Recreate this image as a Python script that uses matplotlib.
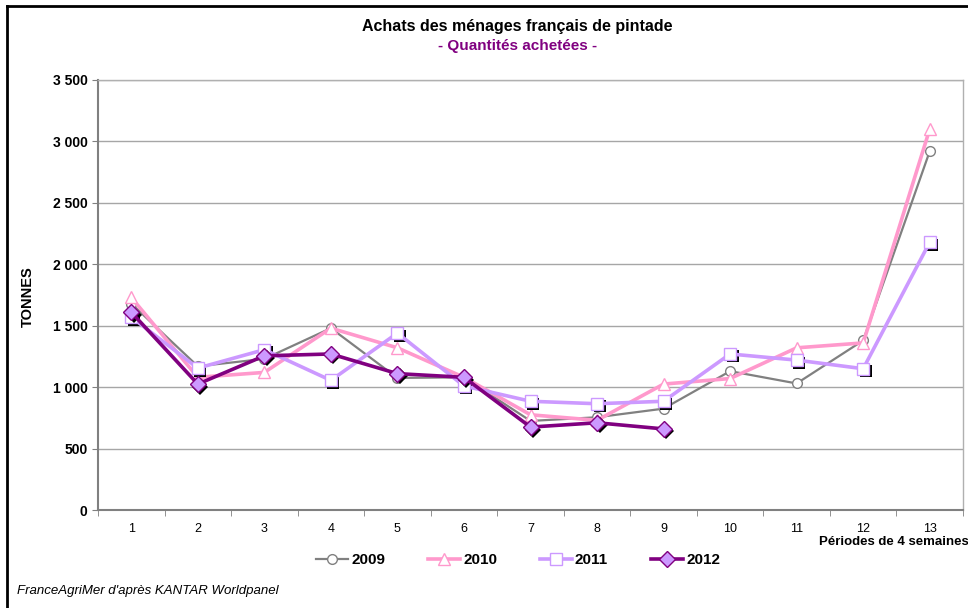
import numpy as np
import matplotlib
matplotlib.use("Agg")
import matplotlib.pyplot as plt
from matplotlib.lines import Line2D
from matplotlib.transforms import offset_copy
from matplotlib.ticker import FuncFormatter

plt.rcParams["font.family"] = ["Liberation Sans", "DejaVu Sans"]

# ── data ────────────────────────────────────────────────────────────────────
periods = list(range(1, 14))
v2009 = [1680, 1170, 1230, 1480, 1075, 1080, 725, 755, 825, 1130, 1030, 1380, 2920]
v2010 = [1730, 1080, 1120, 1480, 1320, 1080, 775, 730, 1025, 1070, 1320, 1360, 3100]
v2011 = [1570, 1155, 1305, 1055, 1440, 1010, 885, 865, 885, 1270, 1220, 1150, 2180]
v2012 = [1610, 1025, 1255, 1270, 1110, 1080, 675, 710, 660]
years = ["2009", "2010", "2011", "2012"]

fig = plt.figure(figsize=(9.68, 6.08), dpi=100)
ax = fig.add_axes([98 / 968, 1 - 510 / 608, 865 / 968, 430 / 608])

# black drop shadow under the square / diamond markers
shadow = offset_copy(ax.transData, fig=fig, x=2.5, y=-2.5, units="dots")

ax.plot(periods, v2009, "-", color="#808080", lw=1.6, marker="o", ms=7,
        mfc="white", mec="#808080", mew=1.0, zorder=3, label=years[0])
ax.plot(periods, v2010, "-", color="#FF99CC", lw=2.6, marker="^", ms=8,
        mfc="white", mec="#FF99CC", mew=1.0, zorder=4, label=years[1])
ax.plot(periods, v2011, "s", color="black", ms=8, mew=0, transform=shadow, zorder=4.5)
ax.plot(periods, v2011, "-", color="#CC99FF", lw=2.6, marker="s", ms=8,
        mfc="white", mec="#CC99FF", mew=1.0, zorder=5, label=years[2])
p12 = periods[:len(v2012)]
ax.plot(p12, v2012, "D", color="black", ms=8, mew=0, transform=shadow, zorder=5.5)
ax.plot(p12, v2012, "-", color="#800080", lw=2.6, marker="D", ms=8,
        mfc="#CC99FF", mec="#800080", mew=1.0, zorder=6, label=years[3])

# ── axes ────────────────────────────────────────────────────────────────────
ax.set_xlim(0.5, 13.5)
ax.set_ylim(0, 3500)
ax.set_yticks(np.arange(0, 3501, 500))
ax.yaxis.set_major_formatter(FuncFormatter(lambda v, _: f"{int(v):,}".replace(",", " ")))
ax.grid(axis="y", color="#a6a6a6", lw=1.0, zorder=0)
ax.set_axisbelow(True)

ax.set_xticks(periods)
ax.set_xticks(np.arange(0.5, 13.6, 1), minor=True)
ax.tick_params(axis="x", which="major", length=0, pad=9, labelsize=9)
ax.tick_params(axis="x", which="minor", length=4, direction="out", color="#808080")
ax.tick_params(axis="y", length=4, direction="out", color="#808080", labelsize=10)
for lbl in ax.get_yticklabels():
    lbl.set_fontweight("bold")

for side in ["left", "bottom"]:
    ax.spines[side].set_color("#808080")
    ax.spines[side].set_linewidth(1.5)
for side in ["top", "right"]:
    ax.spines[side].set_color("#b0b0b0")
    ax.spines[side].set_linewidth(1.0)

# ── texts ───────────────────────────────────────────────────────────────────
fig.text(517 / 968, 1 - 27 / 608, "Achats des ménages français de pintade",
         ha="center", va="center", fontsize=11.5, fontweight="bold")
fig.text(518 / 968, 1 - 46 / 608, "- Quantités achetées -",
         ha="center", va="center", fontsize=11, fontweight="bold", color="#800080")
fig.text(28 / 968, 1 - 297 / 608, "TONNES", rotation=90, ha="center", va="center",
         fontsize=10.5, fontweight="bold")
fig.text(819 / 968, 1 - 542 / 608, "Périodes de 4 semaines", ha="left", va="center",
         fontsize=9.5, fontweight="bold")
fig.text(17 / 968, 1 - 591 / 608, "FranceAgriMer d'après KANTAR Worldpanel",
         ha="left", va="center", fontsize=9.5, style="italic")

leg = fig.legend(loc="center", bbox_to_anchor=(518 / 968, 1 - 560 / 608), ncol=4,
                 frameon=False, handlelength=2.1, handletextpad=0.2, columnspacing=2.8,
                 prop={"weight": "bold", "size": 11})

# outer frame (top and left edges only are visible in the reference)
fig.add_artist(Line2D([7 / 968, 7 / 968], [0, 1 - 6 / 608], color="black", lw=2,
                      transform=fig.transFigure))
fig.add_artist(Line2D([7 / 968, 1], [1 - 6 / 608, 1 - 6 / 608], color="black", lw=2,
                      transform=fig.transFigure))

fig.savefig("out.png", dpi=100)
